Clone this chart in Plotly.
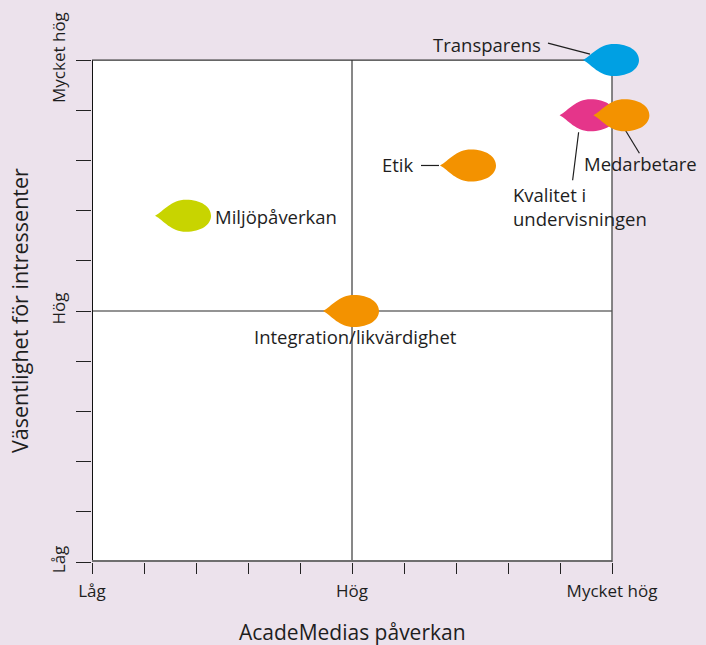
import plotly.graph_objects as go

# ---------------- data ----------------
categories = ["Miljöpåverkan", "Integration/likvärdighet", "Etik",
              "Transparens", "Kvalitet i undervisningen", "Medarbetare"]
paverkan = [1.77, 5.0, 7.25, 10.0, 9.55, 10.2]        # AcadeMedias påverkan
vasentlighet = [6.9, 5.0, 7.9, 10.0, 8.9, 8.9]         # Väsentlighet för intressenter
colors = ["#c8d400", "#f39200", "#f39200", "#00a0e3", "#e5358a", "#f39200"]

tick_vals = list(range(0, 11))
tick_text = ["Låg", "", "", "", "", "Hög", "", "", "", "", "Mycket hög"]
MID = 5

# ---------------- styling ----------------
BG = "#ece2ec"
FONT = "Open Sans"
TXT = "#1e1e1e"

# label placement (pixel offsets from the marker centre)
label_style = {
    "Miljöpåverkan": dict(text="Miljöpåverkan", xs=29, ys=-1, xa="left", line=None),
    "Integration/likvärdighet": dict(text="Integration/likvärdighet", xs=3, ys=-25, xa="center", line=None),
    "Etik": dict(text="Etik", xs=-53, ys=1, xa="right", line=(-48, 0, -30, 0)),
    "Transparens": dict(text="Transparens", xs=-69, ys=16, xa="right", line=(-64, 17, -22, 6)),
    "Kvalitet i undervisningen": dict(text="Kvalitet i<br>undervisningen", xs=-78, ys=-91, xa="left",
                                      line=(-10, -17, -16, -65)),
    "Medarbetare": dict(text="Medarbetare", xs=-40, ys=-48, xa="left", line=(3, -15, 17, -38)),
}

drop = ("M -29,0 C -20,-5 -13,-16 2,-16 C 17,-16 27,-9 27,0 "
        "C 27,9 17,16 2,16 C -13,16 -20,5 -29,0 Z")

fig = go.Figure()
fig.add_trace(go.Scatter(x=paverkan, y=vasentlighet, mode="markers", text=categories,
                         marker=dict(size=1, opacity=0), hoverinfo="text", showlegend=False))

shapes = []
# white quadrant area
shapes.append(dict(type="rect", xref="x", yref="y", x0=0, x1=10, y0=0, y1=10,
                   fillcolor="white", line=dict(width=0), layer="below"))
# mid lines
shapes.append(dict(type="line", xref="x", yref="y", x0=0, x1=10, y0=MID, y1=MID,
                   line=dict(color="#6f6f6f", width=1.6), layer="below"))
shapes.append(dict(type="line", xref="x", yref="y", x0=MID, x1=MID, y0=0, y1=10,
                   line=dict(color="#111111", width=1), layer="below"))
# frame
shapes.append(dict(type="line", xref="x", yref="y", x0=0, x1=0, y0=0, y1=10,
                   line=dict(color="#111111", width=2), layer="below"))
shapes.append(dict(type="line", xref="x", yref="y", x0=0, x1=10, y0=0, y1=0,
                   line=dict(color="#6f6f6f", width=4), layer="below"))
shapes.append(dict(type="line", xref="x", yref="y", x0=0, x1=10, y0=10, y1=10,
                   line=dict(color="#333333", width=1.2), layer="below"))
shapes.append(dict(type="line", xref="x", yref="y", x0=10, x1=10, y0=0, y1=10,
                   line=dict(color="#555555", width=1.4), layer="below"))

annotations = []
for cat, xv, yv, col in zip(categories, paverkan, vasentlighet, colors):
    st = label_style[cat]
    if st["line"] is not None:
        x0, y0, x1, y1 = st["line"]
        shapes.append(dict(type="path", xref="x", yref="y", xsizemode="pixel", ysizemode="pixel",
                           xanchor=xv, yanchor=yv,
                           path=f"M {x0},{y0} L {x1},{y1}",
                           line=dict(color="#1e1e1e", width=1.2), layer="above"))
    shapes.append(dict(type="path", xref="x", yref="y", xsizemode="pixel", ysizemode="pixel",
                       xanchor=xv, yanchor=yv, path=drop, fillcolor=col,
                       line=dict(width=0), layer="above"))
    annotations.append(dict(x=xv, y=yv, xref="x", yref="y", text=st["text"], showarrow=False,
                            xanchor=st["xa"], yanchor="middle", xshift=st["xs"], yshift=st["ys"],
                            align="left", font=dict(family=FONT, size=18.5, color=TXT)))

# axis titles
annotations.append(dict(x=MID, y=0, xref="x", yref="y", text="AcadeMedias påverkan",
                        showarrow=False, xanchor="center", yanchor="middle", yshift=-70,
                        font=dict(family=FONT, size=21, color=TXT)))
annotations.append(dict(x=0, y=MID, xref="x", yref="y", text="Väsentlighet för intressenter",
                        showarrow=False, xanchor="center", yanchor="middle", xshift=-73,
                        textangle=-90, font=dict(family=FONT, size=21.5, color=TXT)))

fig.update_layout(
    width=706, height=645,
    margin=dict(l=92, r=16, t=40, b=83),
    paper_bgcolor=BG, plot_bgcolor=BG,
    showlegend=False,
    shapes=shapes, annotations=annotations,
    xaxis=dict(range=[0, 11.5], tickmode="array", tickvals=tick_vals, ticktext=tick_text,
               ticks="outside", ticklen=11, tickwidth=1.2, tickcolor="#222222",
               ticklabelstandoff=3,
               showgrid=False, zeroline=False, showline=False,
               tickfont=dict(family=FONT, size=17, color=TXT)),
    yaxis=dict(range=[0, 10.4], tickmode="array", tickvals=tick_vals, ticktext=tick_text,
               ticks="outside", ticklen=15, tickwidth=1.2, tickcolor="#222222", tickangle=-90,
               ticklabelstandoff=4,
               showgrid=False, zeroline=False, showline=False,
               tickfont=dict(family=FONT, size=17, color=TXT)),
)

fig.write_html("out.html", post_script="document.body.style.margin='0';",
               config={"displayModeBar": False})
